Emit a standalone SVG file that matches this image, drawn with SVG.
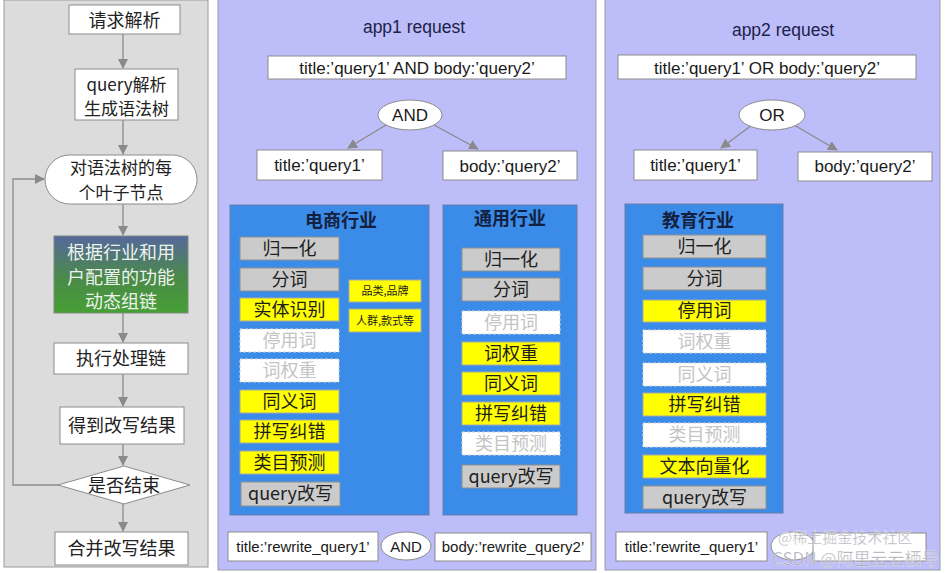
<svg xmlns="http://www.w3.org/2000/svg" width="949" height="573" viewBox="0 0 949 573">
<defs>
<linearGradient id="grad" x1="0" y1="0" x2="0" y2="1">
<stop offset="0" stop-color="#56689c"/>
<stop offset="0.55" stop-color="#4a8a48"/>
<stop offset="1" stop-color="#46a034"/>
</linearGradient>
<marker id="ah" viewBox="0 0 10 10" refX="9" refY="5" markerWidth="10" markerHeight="10" markerUnits="userSpaceOnUse" orient="auto">
<path d="M0,0 L10,5 L0,10 z" fill="#8a8a8a"/>
</marker>
<style>
.cn{font-family:"Noto Sans CJK SC","Liberation Sans",sans-serif;}
.en{font-family:"Liberation Sans","Noto Sans CJK SC",sans-serif;}
.box{fill:#ffffff;stroke:#8c8c8c;stroke-width:1;}
.panelL{fill:#dcdcdc;stroke:#9a9a9a;stroke-width:1;}
.panel{fill:#bdbdf9;stroke:#9a9aa8;stroke-width:1;}
.blk{fill:#3b8ce8;stroke:#6b7fa8;stroke-width:1;}
.g{fill:#cbcbcb;stroke:#8f8f8f;stroke-width:1;}
.y{fill:#ffff00;stroke:#a8a8a8;stroke-width:1;}
.w{fill:#ffffff;stroke:#d4d4d4;stroke-width:1;stroke-dasharray:3 2;}
.lt{font-size:18px;fill:#222;text-anchor:middle;}
.lt2{font-size:17px;fill:#222;text-anchor:middle;}
.it{font-size:18px;fill:#1e1e1e;text-anchor:middle;}
.itw{font-size:18px;fill:#c4c4c4;text-anchor:middle;}
.bt{font-size:18px;fill:#14203f;font-weight:bold;text-anchor:middle;}
.q{font-size:17px;fill:#1a1a1a;text-anchor:middle;}
.h{font-size:17.5px;fill:#1c2248;text-anchor:middle;}
.rq{font-size:15px;fill:#1a1a1a;text-anchor:middle;}
.con{stroke:#8a8a8a;stroke-width:1.3;fill:none;}
.wm{fill:#8f8f9a;fill-opacity:0.75;stroke:#ffffff;stroke-opacity:0.6;stroke-width:0.6;}
</style>
</defs>
<rect x="0" y="0" width="949" height="573" fill="#ffffff"/>

<!-- panels -->
<rect class="panelL" x="4" y="0" width="204" height="567"/>
<rect class="panel" x="218" y="-1" width="378" height="571"/>
<rect class="panel" x="605" y="-1" width="335" height="571"/>

<!-- connectors -->
<g id="connectors">
<line class="con" x1="123" y1="34" x2="123" y2="68" marker-end="url(#ah)"/>
<line class="con" x1="123" y1="120" x2="123" y2="154" marker-end="url(#ah)"/>
<line class="con" x1="123" y1="204" x2="123" y2="235" marker-end="url(#ah)"/>
<line class="con" x1="123" y1="313" x2="123" y2="342" marker-end="url(#ah)"/>
<line class="con" x1="123" y1="374" x2="123" y2="406" marker-end="url(#ah)"/>
<line class="con" x1="123" y1="444" x2="123" y2="465" marker-end="url(#ah)"/>
<line class="con" x1="123" y1="504" x2="123" y2="531" marker-end="url(#ah)"/>
<polyline class="con" points="58,485 13,485 13,179 44,179" marker-end="url(#ah)"/>
<line class="con" x1="386" y1="125" x2="348" y2="148" marker-end="url(#ah)"/>
<line class="con" x1="434" y1="125" x2="478" y2="149" marker-end="url(#ah)"/>
<line class="con" x1="752" y1="125" x2="721" y2="148" marker-end="url(#ah)"/>
<line class="con" x1="794" y1="125" x2="837" y2="150" marker-end="url(#ah)"/>
</g>

<!-- left flow -->
<g id="n-parse">
<rect class="box" x="69" y="5" width="111" height="29"/>
<text class="cn lt" x="124.5" y="26.5">请求解析</text>
</g>
<g id="n-query-parse">
<rect class="box" x="75" y="69" width="103" height="51"/>
<text class="cn lt2" x="126.5" y="90.5">query解析</text>
<text class="cn lt2" x="126.5" y="115">生成语法树</text>
</g>
<g id="n-leaf">
<rect class="box" x="45" y="155" width="152" height="49" rx="24.5"/>
<text class="cn lt2" x="121" y="174">对语法树的每</text>
<text class="cn lt2" x="121" y="199">个叶子节点</text>
</g>
<g id="n-chain">
<rect x="54" y="236" width="134" height="77" fill="url(#grad)" stroke="#7a8a7a" stroke-width="1"/>
<text class="cn lt" x="121" y="258.5" style="fill:#eef2ee">根据行业和用</text>
<text class="cn lt" x="121" y="283.5" style="fill:#eef2ee">户配置的功能</text>
<text class="cn lt" x="121" y="307.5" style="fill:#eef2ee">动态组链</text>
</g>
<g id="n-exec">
<rect class="box" x="54" y="343" width="134" height="31"/>
<text class="cn lt" x="121" y="365">执行处理链</text>
</g>
<g id="n-result">
<rect class="box" x="60" y="407" width="124" height="37"/>
<text class="cn lt" x="122" y="432">得到改写结果</text>
</g>
<g id="n-end">
<polygon class="box" points="58,485 124,466 190,485 124,504"/>
<text class="cn lt" x="124" y="492">是否结束</text>
</g>
<g id="n-merge">
<rect class="box" x="55" y="532" width="133" height="33"/>
<text class="cn lt" x="121.5" y="555">合并改写结果</text>
</g>

<!-- app1 -->
<g id="app1-title"><text class="en h" x="414" y="33">app1 request</text></g>
<g id="app1-query">
<rect class="box" x="268" y="56" width="298" height="23"/>
<text class="en q" x="417" y="73.5">title:’query1’ AND body:’query2’</text>
</g>
<g id="app1-and">
<ellipse class="box" cx="410" cy="115" rx="32" ry="15"/>
<text class="en q" x="410" y="121">AND</text>
</g>
<g id="app1-title-q">
<rect class="box" x="257" y="150" width="125" height="30"/>
<text class="en q" x="319.5" y="171">title:’query1’</text>
</g>
<g id="app1-body-q">
<rect class="box" x="443" y="151" width="134" height="29"/>
<text class="en q" x="510" y="171.5">body:’query2’</text>
</g>

<g id="blk-ecommerce">
<rect class="blk" x="230" y="205" width="199" height="310"/>
<text class="cn bt" x="341" y="226.5">电商行业</text>
<rect class="g" x="240" y="237" width="99" height="23"/><text class="cn it" x="289.5" y="254.5">归一化</text>
<rect class="g" x="240" y="268" width="99" height="23"/><text class="cn it" x="289.5" y="285.5">分词</text>
<rect class="y" x="240" y="298" width="99" height="23"/><text class="cn it" x="289.5" y="315.5">实体识别</text>
<rect class="w" x="240" y="329" width="99" height="23"/><text class="cn itw" x="289.5" y="346.5">停用词</text>
<rect class="w" x="240" y="359" width="99" height="23"/><text class="cn itw" x="289.5" y="376.5">词权重</text>
<rect class="y" x="240" y="390" width="99" height="23"/><text class="cn it" x="289.5" y="407.5">同义词</text>
<rect class="y" x="240" y="420" width="99" height="23"/><text class="cn it" x="289.5" y="437.5">拼写纠错</text>
<rect class="y" x="240" y="451" width="99" height="23"/><text class="cn it" x="289.5" y="468.5">类目预测</text>
<rect class="g" x="241" y="482" width="99" height="24"/><text class="cn it" x="290.5" y="500">query改写</text>
<rect class="y" x="349" y="280" width="72" height="22"/><text class="cn" x="385" y="295" font-size="11" fill="#222" text-anchor="middle">品类,品牌</text>
<rect class="y" x="349" y="309" width="72" height="23"/><text class="cn" x="385" y="324.5" font-size="11" fill="#222" text-anchor="middle">人群,款式等</text>
</g>

<g id="blk-general">
<rect class="blk" x="443" y="205" width="134" height="310"/>
<text class="cn bt" x="510" y="224.5">通用行业</text>
<rect class="g" x="462" y="248" width="98" height="23"/><text class="cn it" x="511" y="265.5">归一化</text>
<rect class="g" x="462" y="278" width="98" height="23"/><text class="cn it" x="511" y="295.5">分词</text>
<rect class="w" x="462" y="311" width="98" height="23"/><text class="cn itw" x="511" y="328.5">停用词</text>
<rect class="y" x="462" y="342" width="98" height="23"/><text class="cn it" x="511" y="359.5">词权重</text>
<rect class="y" x="462" y="372" width="98" height="23"/><text class="cn it" x="511" y="389.5">同义词</text>
<rect class="y" x="462" y="402" width="98" height="23"/><text class="cn it" x="511" y="419.5">拼写纠错</text>
<rect class="w" x="462" y="432" width="98" height="23"/><text class="cn itw" x="511" y="449.5">类目预测</text>
<rect class="g" x="462" y="465" width="98" height="23"/><text class="cn it" x="511" y="482.5">query改写</text>
</g>

<g id="app1-rewrite-title">
<rect class="box" x="228" y="532" width="150" height="29"/>
<text class="en rq" x="303" y="551.5">title:’rewrite_query1’</text>
</g>
<g id="app1-rewrite-and">
<ellipse class="box" cx="406" cy="546" rx="25" ry="14"/>
<text class="en rq" x="406" y="551.5">AND</text>
</g>
<g id="app1-rewrite-body">
<rect class="box" x="435" y="533" width="156" height="28"/>
<text class="en rq" x="513" y="552">body:’rewrite_query2’</text>
</g>

<!-- app2 -->
<g id="app2-title"><text class="en h" x="783" y="36">app2 request</text></g>
<g id="app2-query">
<rect class="box" x="618" y="55" width="298" height="24"/>
<text class="en q" x="767" y="73.5">title:’query1’ OR body:’query2’</text>
</g>
<g id="app2-or">
<ellipse class="box" cx="772" cy="115" rx="33" ry="15"/>
<text class="en q" x="772" y="121">OR</text>
</g>
<g id="app2-title-q">
<rect class="box" x="634" y="150" width="123" height="30"/>
<text class="en q" x="695.5" y="171">title:’query1’</text>
</g>
<g id="app2-body-q">
<rect class="box" x="798" y="152" width="134" height="29"/>
<text class="en q" x="865" y="172">body:’query2’</text>
</g>

<g id="blk-education">
<rect class="blk" x="625" y="204" width="158" height="309"/>
<text class="cn bt" x="698" y="226.5">教育行业</text>
<rect class="g" x="643" y="235" width="123" height="23"/><text class="cn it" x="704.5" y="252.5">归一化</text>
<rect class="g" x="643" y="267" width="123" height="23"/><text class="cn it" x="704.5" y="284.5">分词</text>
<rect class="y" x="643" y="300" width="123" height="22"/><text class="cn it" x="704.5" y="317">停用词</text>
<rect class="w" x="643" y="330" width="123" height="23"/><text class="cn itw" x="704.5" y="347.5">词权重</text>
<rect class="w" x="643" y="363" width="123" height="23"/><text class="cn itw" x="704.5" y="380.5">同义词</text>
<rect class="y" x="643" y="393" width="123" height="23"/><text class="cn it" x="704.5" y="410.5">拼写纠错</text>
<rect class="w" x="643" y="423" width="123" height="24"/><text class="cn itw" x="704.5" y="441">类目预测</text>
<rect class="y" x="643" y="455" width="123" height="23"/><text class="cn it" x="704.5" y="472.5">文本向量化</text>
<rect class="g" x="643" y="486" width="123" height="23"/><text class="cn it" x="704.5" y="503.5">query改写</text>
</g>

<g id="app2-rewrite-title">
<rect class="box" x="616" y="532" width="151" height="29"/>
<text class="en rq" x="691.5" y="551.5">title:’rewrite_query1’</text>
</g>
<g id="app2-rewrite-or">
<ellipse class="box" cx="793" cy="546" rx="22" ry="14"/>
</g>
<g id="app2-rewrite-body">
<rect class="box" x="813" y="533" width="113" height="28"/>
</g>

<!-- watermark -->
<g id="watermark">
<text class="cn wm" x="778" y="543" font-size="15">@稀土掘金技术社区</text>
<text class="cn wm" x="772" y="565" font-size="17">CSDN @阿里云云栖号</text>
</g>
</svg>
